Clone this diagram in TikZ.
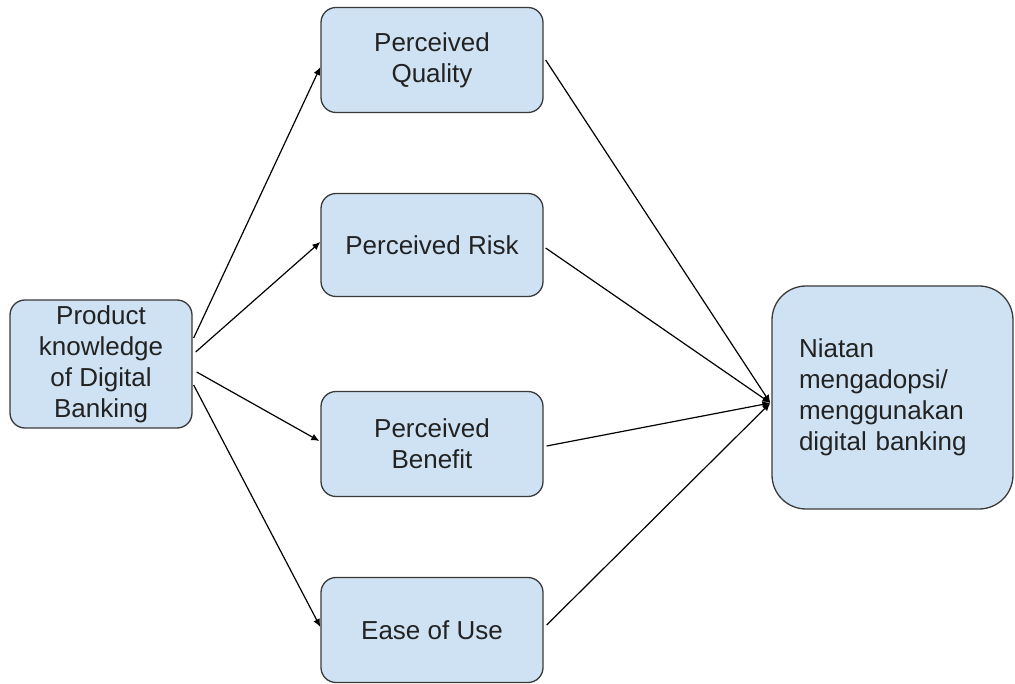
\documentclass[tikz,border=0pt]{standalone}
\usepackage{fontspec}
\setmainfont{Liberation Sans}
\usetikzlibrary{arrows.meta,calc}
\definecolor{boxfill}{HTML}{CFE2F3}
\definecolor{boxline}{HTML}{3A3A3A}
\definecolor{txt}{HTML}{222222}
\tikzset{
  box/.style={draw=boxline, fill=boxfill, line width=1.3pt, rounded corners=15pt,
    align=center, text=txt, font=\fontsize{26}{31}\selectfont, inner sep=0pt},
  midbox/.style={box, minimum width=222pt, minimum height=105pt},
  conn/.style={draw=black, line width=1.2pt, -{Latex[length=8pt,width=7pt]}},
}
\begin{document}
\begin{tikzpicture}[x=1pt,y=-1pt]
\useasboundingbox (0,0) rectangle (1015,684);
\node[box, minimum width=182pt, minimum height=128pt] (a) at (101,364) {Product\\knowledge\\of Digital\\Banking};
\node[midbox] (q) at (432,60) {Perceived\\Quality};
\node[midbox, minimum height=103pt] (r) at (432,245) {Perceived Risk};
\node[midbox] (b) at (432,444) {Perceived\\Benefit};
\node[midbox] (e) at (432,630) {Ease of Use};
\node[box, rounded corners=34pt, text width=187pt, align=left, inner xsep=27pt, minimum height=223pt] (n) at (892.5,397.5) {Niatan\\mengadopsi/\\menggunakan\\digital banking};
\coordinate (m) at ($(n.west)+(-1,5.5)$);
\draw[conn] ($(a.east)+(1,-26)$) -- ($(q.west)+(0,7)$);
\draw[conn] ($(a.east)+(3,-12)$) -- ($(r.west)+(0,-3)$);
\draw[conn] ($(a.east)+(4,8)$) -- ($(b.west)+(-1,-3)$);
\draw[conn] ($(a.east)+(1,21)$) -- ($(e.west)+(0,-3)$);
\draw[conn] ($(q.east)+(2,0)$) -- (m);
\draw[conn] ($(r.east)+(2,3)$) -- (m);
\draw[conn] ($(b.east)+(3,2)$) -- (m);
\draw[conn] ($(e.east)+(3,-5)$) -- (m);
\end{tikzpicture}
\end{document}
